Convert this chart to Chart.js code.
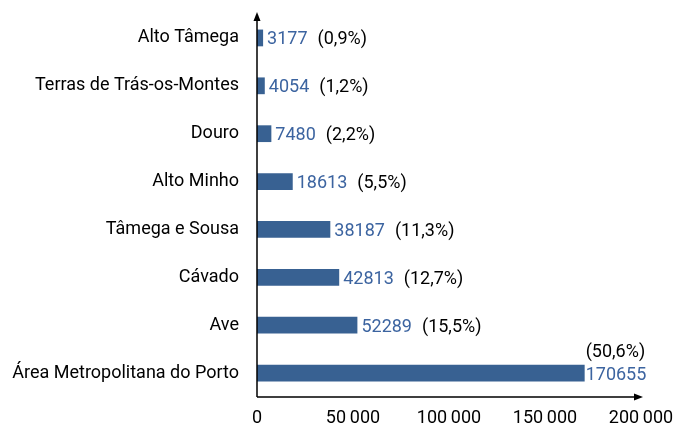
<!DOCTYPE html>
<html>
<head>
<meta charset="utf-8">
<script src="https://cdn.jsdelivr.net/npm/chart.js@4"></script>
<style>
  html, body { margin: 0; padding: 0; background: #fff; }
  #wrap { width: 676px; height: 434px; }
</style>
</head>
<body>
<div id="wrap"><canvas id="chart"></canvas></div>
<script>
// data
const regions = ["Alto Tâmega", "Terras de Trás-os-Montes", "Douro", "Alto Minho",
  "Tâmega e Sousa", "Cávado", "Ave", "Área Metropolitana do Porto"];
const values = [3177, 4054, 7480, 18613, 38187, 42813, 52289, 170655];
const shares = ["0,9%", "1,2%", "2,2%", "5,5%", "11,3%", "12,7%", "15,5%", "50,6%"];
const xTicks = [0, 50000, 100000, 150000, 200000];

const FONT = "Roboto, sans-serif";
const BAR = "#386192";

// black axis lines with arrow heads
const axisArrows = {
  id: "axisArrows",
  afterDraw(chart) {
    const ctx = chart.ctx, a = chart.chartArea;
    ctx.save();
    ctx.strokeStyle = "#000";
    ctx.fillStyle = "#000";
    ctx.lineWidth = 1.5;
    ctx.beginPath();
    ctx.moveTo(a.left, a.bottom);
    ctx.lineTo(a.left, a.top + 2);
    ctx.moveTo(a.left, a.bottom);
    ctx.lineTo(a.right - 2, a.bottom);
    ctx.stroke();
    // arrow heads
    ctx.beginPath();
    ctx.moveTo(a.left, a.top - 2);
    ctx.lineTo(a.left - 3.5, a.top + 7);
    ctx.lineTo(a.left + 3.5, a.top + 7);
    ctx.closePath();
    ctx.fill();
    ctx.beginPath();
    ctx.moveTo(a.right + 2, a.bottom);
    ctx.lineTo(a.right - 7, a.bottom - 3.5);
    ctx.lineTo(a.right - 7, a.bottom + 3.5);
    ctx.closePath();
    ctx.fill();
    ctx.restore();
  }
};

// value + share labels next to each bar
const barLabels = {
  id: "barLabels",
  afterDatasetsDraw(chart) {
    const ctx = chart.ctx;
    const meta = chart.getDatasetMeta(0);
    ctx.save();
    ctx.font = "18px " + FONT;
    ctx.textBaseline = "middle";
    ctx.textAlign = "left";
    meta.data.forEach((bar, i) => {
      const txt = String(values[i]);
      const pct = "(" + shares[i] + ")";
      if (i === values.length - 1) {
        ctx.fillStyle = "#3c64a0";
        ctx.fillText(txt, bar.x + 1, bar.y + 2);
        ctx.fillStyle = "#000";
        ctx.fillText(pct, bar.x + 1, bar.y - 21);
      } else {
        ctx.fillStyle = "#3c64a0";
        ctx.fillText(txt, bar.x + 4, bar.y + 2);
        const w = ctx.measureText(txt).width;
        ctx.fillStyle = "#000";
        ctx.fillText(pct, bar.x + 4 + w + 10, bar.y + 2);
      }
    });
    ctx.restore();
  }
};

new Chart(document.getElementById("chart"), {
  type: "bar",
  data: {
    labels: regions,
    datasets: [{
      data: values,
      backgroundColor: BAR,
      barPercentage: 0.7,
      categoryPercentage: 0.5
    }]
  },
  options: {
    indexAxis: "y",
    responsive: true,
    maintainAspectRatio: false,
    animation: false,
    layout: { padding: { top: 14, right: 35, left: 0, bottom: 0 } },
    plugins: { legend: { display: false }, tooltip: { enabled: false } },
    scales: {
      x: {
        min: 0, max: 200000,
        afterBuildTicks(scale) { scale.ticks = xTicks.map(v => ({ value: v })); },
        afterFit(scale) {
          scale.height = 37;
          scale.paddingLeft = 0;
          scale.paddingRight = 0;
        },
        grid: { display: false, drawTicks: false },
        border: { display: false },
        ticks: {
          color: "#000",
          font: { family: FONT, size: 18 },
          padding: 11,
          maxRotation: 0,
          callback: v => v === 0 ? "0" : String(v).replace(/\B(?=(\d{3})+(?!\d))/g, "\u2009")
        }
      },
      y: {
        afterFit(scale) {
          scale.width = 257;
          scale.paddingTop = 0;
          scale.paddingBottom = 0;
        },
        grid: { display: false, drawTicks: false },
        border: { display: false },
        ticks: {
          color: "#000",
          font: { family: FONT, size: 18 },
          padding: 18
        }
      }
    }
  },
  plugins: [axisArrows, barLabels]
});
</script>
</body>
</html>
